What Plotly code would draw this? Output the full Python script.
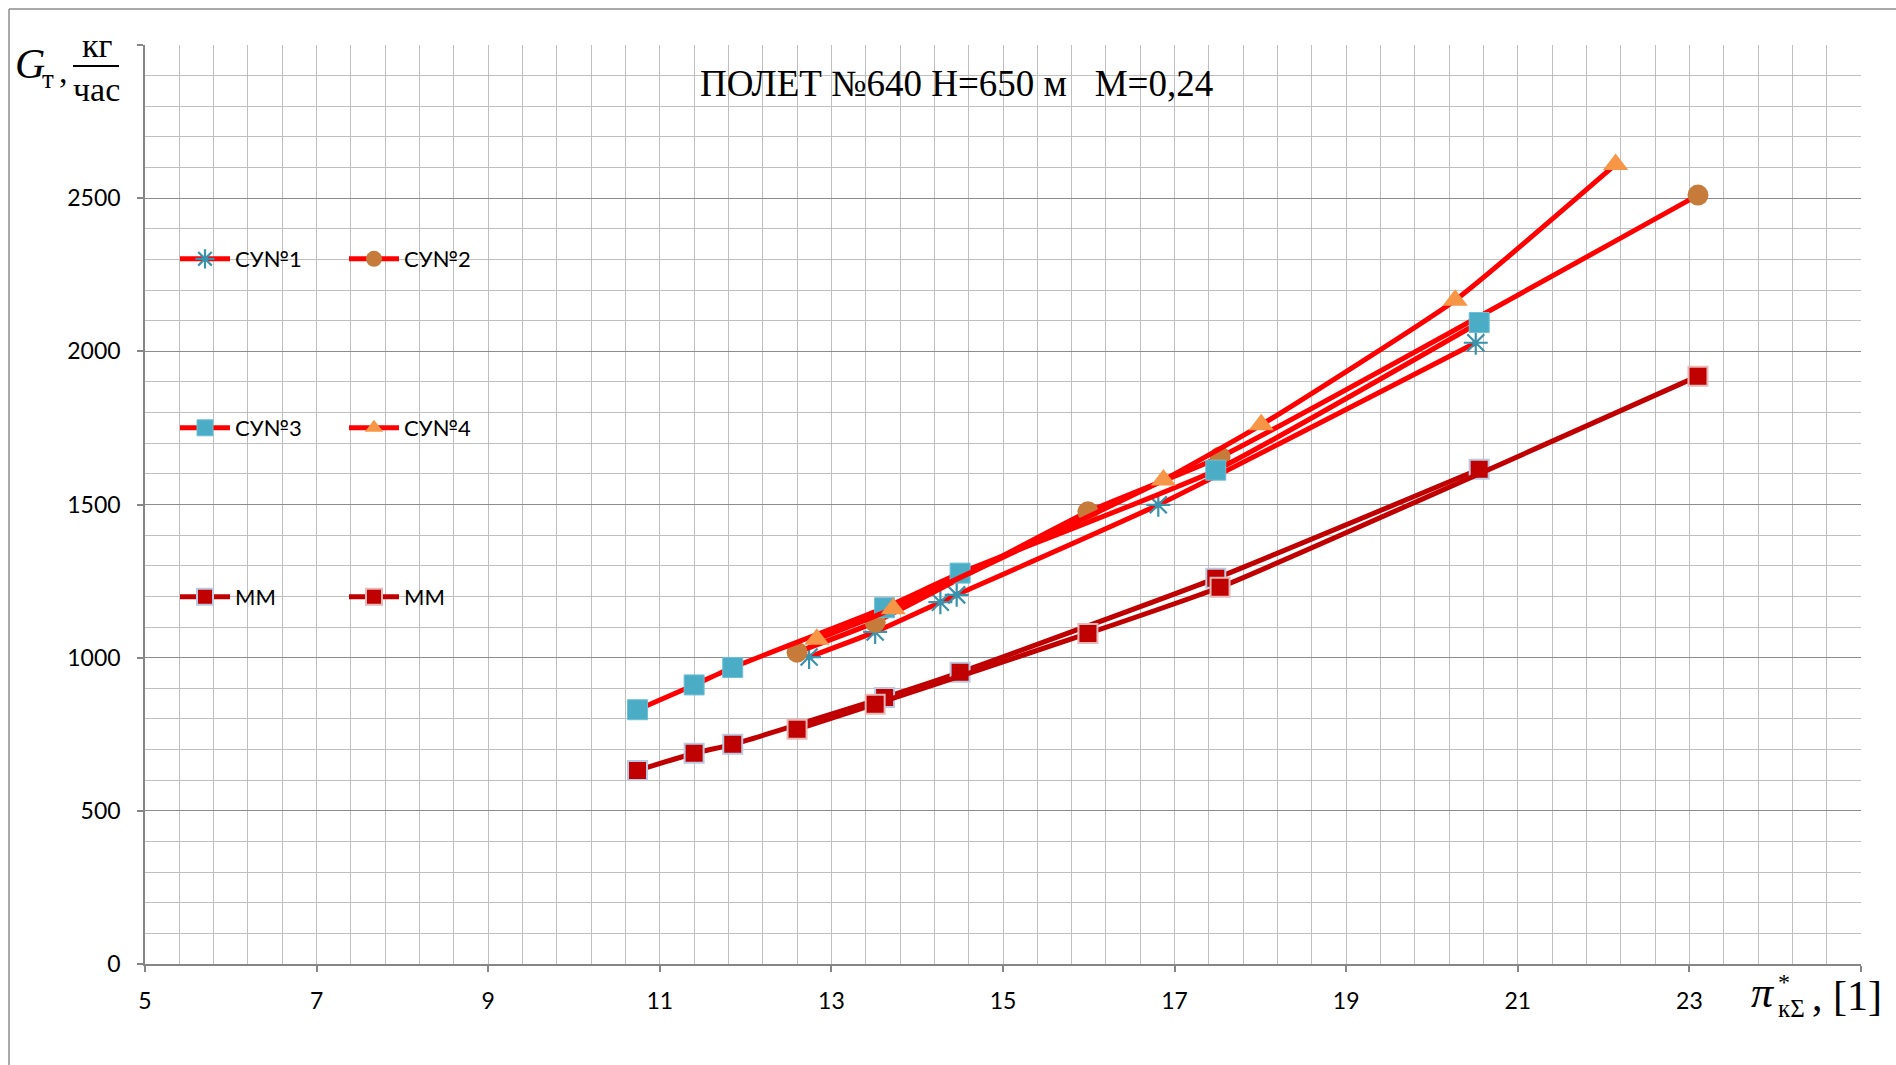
import plotly.graph_objects as go

# Fuel flow vs. total compressor pressure ratio, flight 640
su1_x = [12.74, 13.51, 14.27, 14.46, 16.81, 20.51]
su1_y = [1002, 1084, 1181, 1205, 1499, 2028]

su2_x = [12.60, 13.51, 15.99, 17.53, 23.10]
su2_y = [1018, 1116, 1476, 1655, 2510]

su3_x = [10.74, 11.40, 11.85, 13.62, 14.50, 17.48, 20.55]
su3_y = [830, 911, 968, 1163, 1276, 1612, 2094]

su4_x = [12.83, 13.72, 16.87, 18.01, 20.27, 22.14]
su4_y = [1060, 1160, 1580, 1760, 2167, 2610]

# model values at the СУ№3 and СУ№2 operating points
mm_a_x = su3_x
mm_a_y = [632, 688, 717, 870, 952, 1259, 1615]
mm_b_x = su2_x
mm_b_y = [766, 848, 1079, 1230, 1919]

x_ticks = [5, 7, 9, 11, 13, 15, 17, 19, 21, 23, 25]
x_labels = ["5", "7", "9", "11", "13", "15", "17", "19", "21", "23", ""]
y_ticks = [0, 500, 1000, 1500, 2000, 2500, 3000]
y_labels = ["0", "500", "1000", "1500", "2000", "2500", ""]

W, H = 1896, 1065
ML, MR, MT, MB = 145, 35, 45, 101
PW, PH = W - ML - MR, H - MT - MB


def px_x(p):
    return (p - ML) / PW


def px_y(p):
    return (H - MB - p) / PH


RED = "#FF0000"
DARK_RED = "#C00000"
SMOOTH = 0.45
TICK_FONT = dict(family="Lato", size=23, color="#000000")

fig = go.Figure()

fig.add_trace(go.Scatter(
    x=su1_x, y=su1_y, name="СУ№1", mode="lines+markers", legend="legend",
    line=dict(color=RED, width=5, shape="spline", smoothing=SMOOTH),
    marker=dict(symbol="asterisk-open", size=20, color="#3A93AD",
                line=dict(color="#3A93AD", width=2.2)),
))
fig.add_trace(go.Scatter(
    x=su2_x, y=su2_y, name="СУ№2", mode="lines+markers", legend="legend",
    line=dict(color=RED, width=5, shape="spline", smoothing=SMOOTH),
    marker=dict(symbol="circle", size=21, color="#C77B3A"),
))
fig.add_trace(go.Scatter(
    x=su3_x, y=su3_y, name="СУ№3", mode="lines+markers", legend="legend2",
    line=dict(color=RED, width=5, shape="spline", smoothing=SMOOTH),
    marker=dict(symbol="square", size=20, color="#4BACC6",
                line=dict(color="#6CC0D6", width=1)),
))
fig.add_trace(go.Scatter(
    x=su4_x, y=su4_y, name="СУ№4", mode="lines+markers", legend="legend2",
    line=dict(color=RED, width=5, shape="spline", smoothing=SMOOTH),
    marker=dict(symbol="triangle-up", size=22, color="#F79646"),
))
fig.add_trace(go.Scatter(
    x=mm_a_x, y=mm_a_y, name="ММ", mode="lines+markers", legend="legend3",
    line=dict(color=DARK_RED, width=5, shape="spline", smoothing=SMOOTH),
    marker=dict(symbol="square", size=19, color=DARK_RED,
                line=dict(color="#B9C9E2", width=2)),
))
fig.add_trace(go.Scatter(
    x=mm_b_x, y=mm_b_y, name="ММ", mode="lines+markers", legend="legend3",
    line=dict(color=DARK_RED, width=5, shape="spline", smoothing=SMOOTH),
    marker=dict(symbol="square", size=19, color=DARK_RED,
                line=dict(color="#E6B8B7", width=2)),
))

legend_common = dict(
    orientation="h", xanchor="left", yanchor="middle",
    x=px_x(175), bgcolor="rgba(0,0,0,0)", borderwidth=0,
    font=dict(family="Lato", size=22, color="#000000"),
    itemwidth=50, entrywidth=104, traceorder="normal",
)

annotations = [
    dict(text="ПОЛЕТ №640 Н=650 м\u00a0\u00a0\u00a0М=0,24", x=px_x(956), y=px_y(83),
         font=dict(family="Liberation Serif", size=37, color="#000000")),
    # y-axis title: G_т, кг/час
    dict(text="<i>G</i>", x=px_x(30), y=px_y(64),
         font=dict(family="Liberation Serif", size=42, color="#000000")),
    dict(text="т", x=px_x(48), y=px_y(79),
         font=dict(family="Liberation Serif", size=27, color="#000000")),
    dict(text=",", x=px_x(63), y=px_y(72),
         font=dict(family="Liberation Serif", size=34, color="#000000")),
    dict(text="кг", x=px_x(97), y=px_y(46),
         font=dict(family="Liberation Serif", size=34, color="#000000")),
    dict(text="час", x=px_x(96), y=px_y(89),
         font=dict(family="Liberation Serif", size=34, color="#000000")),
    # x-axis title: π*_кΣ, [1]
    dict(text="<i>π</i>", x=px_x(1763), y=px_y(992),
         font=dict(family="Liberation Serif", size=44, color="#000000")),
    dict(text="*", x=px_x(1784), y=px_y(982),
         font=dict(family="Liberation Serif", size=24, color="#000000")),
    dict(text="кΣ", x=px_x(1776), y=px_y(1008), xanchor="left",
         font=dict(family="Liberation Serif", size=25, color="#000000")),
    dict(text=", [1]", x=px_x(1810), y=px_y(996), xanchor="left",
         font=dict(family="Liberation Serif", size=42, color="#000000")),
]
for a in annotations:
    a.setdefault("xref", "paper")
    a.setdefault("yref", "paper")
    a.setdefault("showarrow", False)
    a.setdefault("xanchor", "center")
    a.setdefault("yanchor", "middle")

shapes = [
    # fraction bar
    dict(type="line", xref="paper", yref="paper",
         x0=px_x(73), x1=px_x(119), y0=px_y(66), y1=px_y(66),
         line=dict(color="#000000", width=2)),
    # chart frame
    dict(type="line", xref="paper", yref="paper",
         x0=px_x(9), x1=px_x(9), y0=px_y(9), y1=px_y(H + 5),
         line=dict(color="#8C8C8C", width=1.5)),
    dict(type="line", xref="paper", yref="paper",
         x0=px_x(9), x1=px_x(W + 5), y0=px_y(9), y1=px_y(9),
         line=dict(color="#8C8C8C", width=1.5)),
]

fig.update_layout(
    width=W, height=H,
    margin=dict(l=ML, r=MR, t=MT, b=MB, pad=0),
    paper_bgcolor="white", plot_bgcolor="white",
    showlegend=True,
    legend=dict(legend_common, y=px_y(259)),
    legend2=dict(legend_common, y=px_y(428)),
    legend3=dict(legend_common, y=px_y(597)),
    annotations=annotations,
    shapes=shapes,
    xaxis=dict(
        range=[5, 25], tickmode="array", tickvals=x_ticks, ticktext=x_labels,
        showline=True, linecolor="#868686", linewidth=1.5,
        ticks="outside", ticklen=6, tickcolor="#868686", tickwidth=1.5,
        ticklabelstandoff=10, tickfont=TICK_FONT,
        showgrid=True, gridcolor="#BFBFBF", gridwidth=1,
        minor=dict(dtick=0.4, tick0=5, showgrid=True, gridcolor="#BFBFBF",
                   gridwidth=1, ticks=""),
        zeroline=False, fixedrange=True,
    ),
    yaxis=dict(
        range=[0, 3000], tickmode="array", tickvals=y_ticks, ticktext=y_labels,
        showline=True, linecolor="#868686", linewidth=1.5,
        ticks="outside", ticklen=6, tickcolor="#868686", tickwidth=1.5,
        ticklabelstandoff=12, tickfont=TICK_FONT,
        showgrid=True, gridcolor="#8C8C8C", gridwidth=1.2,
        minor=dict(dtick=100, tick0=0, showgrid=True, gridcolor="#BFBFBF",
                   gridwidth=1, ticks=""),
        zeroline=False, fixedrange=True,
    ),
)

fig.write_html("out.html")
